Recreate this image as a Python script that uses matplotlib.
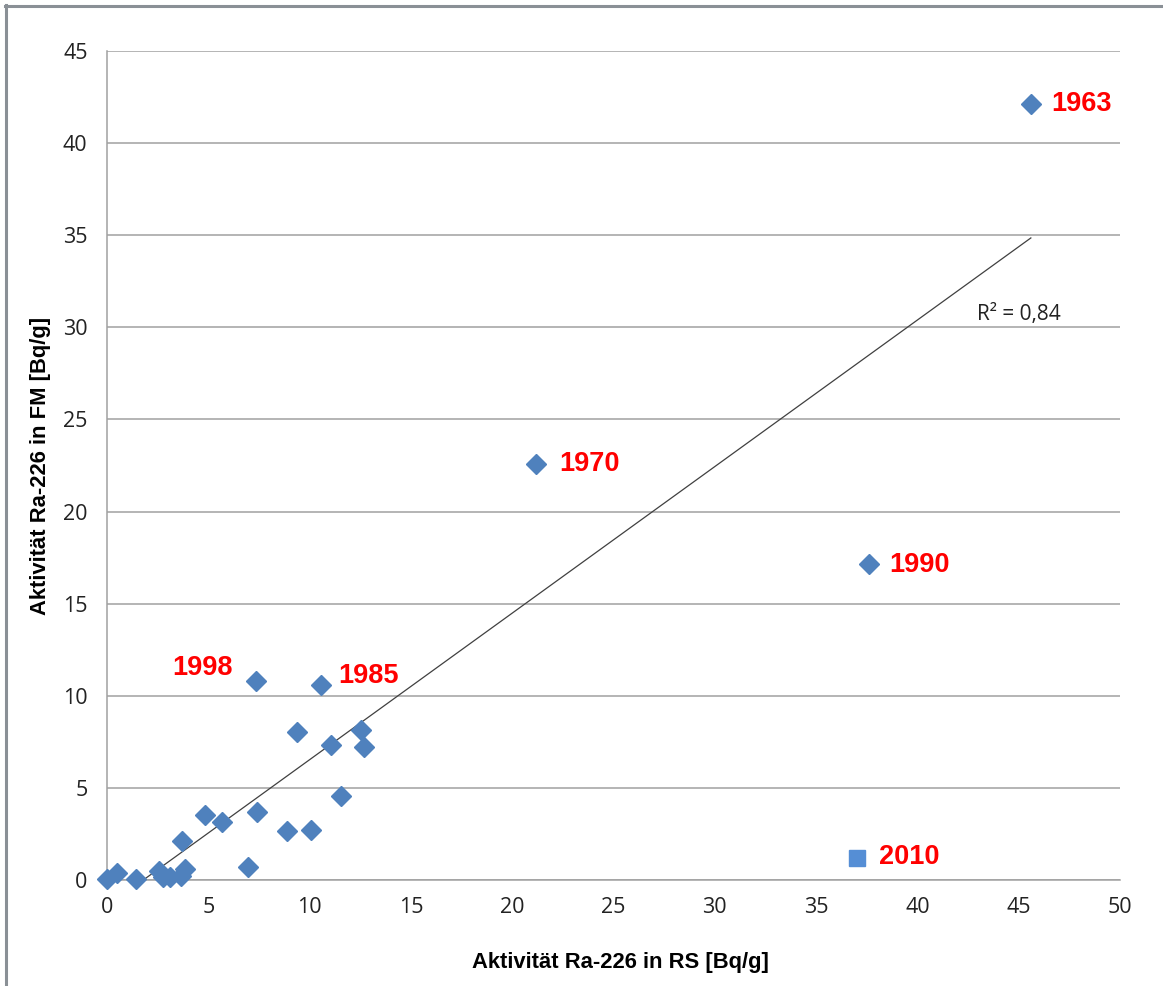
import matplotlib
matplotlib.use("Agg")
import matplotlib.pyplot as plt
from matplotlib.lines import Line2D
import numpy as np

# Ra-226 activity in RS (x) and FM (y), Bq/g
rs = [45.6, 21.17, 37.6, 7.35, 10.56, 9.38, 12.54, 11.06, 12.68, 11.55,
      4.84, 5.68, 7.40, 8.88, 10.07, 3.70, 6.96, 3.85, 2.57, 2.76,
      3.10, 3.65, 0.49, 0.02, 1.43]
fm = [42.1, 22.6, 17.15, 10.8, 10.6, 8.03, 8.14, 7.33, 7.22, 4.56,
      3.53, 3.15, 3.69, 2.66, 2.71, 2.12, 0.71, 0.60, 0.49, 0.16,
      0.16, 0.20, 0.38, 0.05, 0.05]

# 2010 sample, shown separately
rs_2010 = [37.0]
fm_2010 = [1.2]

year_labels = ["1963", "1970", "1990", "1998", "1985", "2010"]
label_x = [46.6, 22.3, 38.6, 3.2, 11.4, 38.1]
label_y = [42.1, 22.6, 17.1, 11.5, 11.05, 1.25]

fig = plt.figure(figsize=(11.63, 9.86), dpi=100)
ax = fig.add_axes([107 / 1163, 1 - 880 / 986, 1013 / 1163, 829 / 986])

# linear trend line fitted on the diamond points
coef = np.polyfit(rs, fm, 1)
xs = np.array([0, max(rs)])
ax.plot(xs, np.polyval(coef, xs), color="#404040", lw=0.9, zorder=2)

ax.plot(rs, fm, linestyle="none", marker="D", ms=10.5, color="#4f81bd",
        mec="#4f81bd", zorder=3, clip_on=False)
ax.plot(rs_2010, fm_2010, linestyle="none", marker="s", ms=12, color="#558ed5",
        zorder=3, clip_on=False)

for t, x, y in zip(year_labels, label_x, label_y):
    ax.text(x, y, t, color="red", fontsize=19.5, fontweight="bold",
            family="Liberation Sans", va="center", ha="left")

ax.text(45.0, 30.7, "R² = 0,84", fontsize=15, family="Open Sans",
        color="#222222", ha="center", va="center")

ax.set_xlim(0, 50)
ax.set_ylim(0, 45)
ax.set_xticks(range(0, 51, 5))
ax.set_yticks(range(0, 46, 5))
ax.grid(axis="y", color="#a0a0a0", lw=1.1)
ax.set_axisbelow(True)
for s in ["top", "right"]:
    ax.spines[s].set_visible(False)
for s in ["left", "bottom"]:
    ax.spines[s].set_color("#a0a0a0")
    ax.spines[s].set_linewidth(1.1)
ax.tick_params(length=0, labelsize=15.5, colors="#222222")
ax.tick_params(axis="x", pad=12)
ax.tick_params(axis="y", pad=14)
for lab in ax.get_xticklabels() + ax.get_yticklabels():
    lab.set_family("Open Sans")

ax.set_xlabel("Aktivität Ra-226 in RS [Bq/g]", fontsize=15.8, fontweight="bold",
              family="Liberation Sans")
ax.set_ylabel("Aktivität Ra-226 in FM [Bq/g]", fontsize=15.8, fontweight="bold",
              family="Liberation Sans")
ax.xaxis.label.set_va("center")
ax.yaxis.label.set_va("center")
ax.xaxis.set_label_coords(0.507, -0.1)
ax.yaxis.set_label_coords(-0.066, 0.5)

# chart area border (only top and left visible in the crop)
fig.add_artist(Line2D([5 / 1163, 1], [1 - 6 / 986] * 2, color="#8a9096", lw=2.2))
fig.add_artist(Line2D([6 / 1163] * 2, [0, 1 - 5 / 986], color="#8a9096", lw=2.2))

fig.savefig("out.png", dpi=100)
